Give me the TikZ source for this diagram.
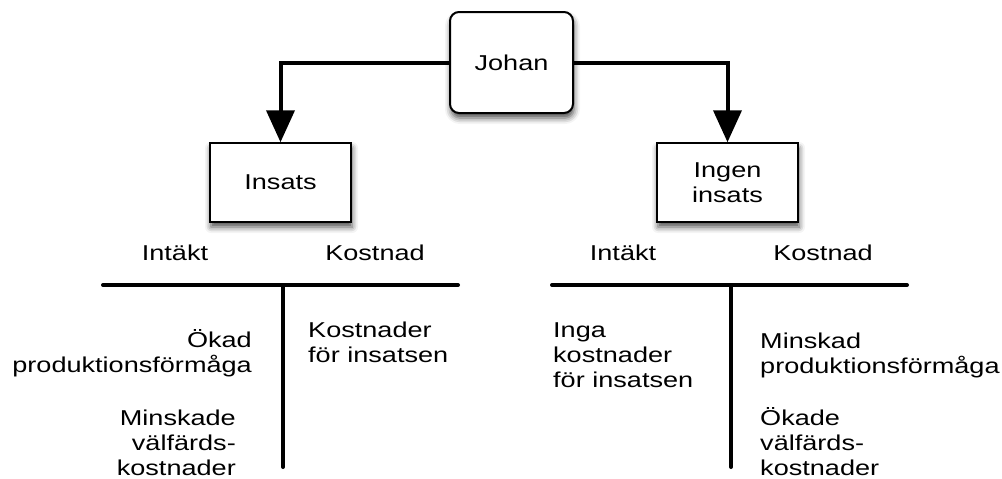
\documentclass[tikz,border=0pt]{standalone}
\usepackage{fontspec}
\setmainfont[FakeStretch=1.26]{Liberation Sans}
\usetikzlibrary{arrows.meta,shadows.blur}
\newcommand{\mylines}[2]{\begin{tabular}[t]{@{}#1@{}}#2\end{tabular}}
\begin{document}
\begin{tikzpicture}[x=1pt,y=-1pt,
  font=\fontsize{21.5}{25}\selectfont,
  boxsh/.style={draw, line width=1.5pt, fill=white, inner sep=0pt,
    blur shadow={shadow xshift=1pt, shadow yshift=-5pt, shadow blur radius=6pt, shadow opacity=70}},
  johanbox/.style={boxsh, rounded corners=9pt, minimum width=123pt, minimum height=101pt, line width=2pt},
  optbox/.style={boxsh, minimum width=141pt, minimum height=79pt, align=center},
  conn/.style={line width=4pt, -{Triangle[width=28pt,length=32pt]}},
  tline/.style={line width=4pt, line cap=round},
  lbl/.style={inner sep=0pt}]
\useasboundingbox (0,0) rectangle (1002,479);
% boxes
\node[johanbox] (johan) at (511.5,62.5) {Johan};
\node[optbox] (insats) at (280.5,182.5) {Insats};
\node[optbox] (ingen) at (727.5,182.5) {Ingen\\insats};
% connectors
\draw[conn] (johan.west) -| (insats.north);
\draw[conn] (johan.east) -| (ingen.north);
% left T
\coordinate (lA) at (103,285);
\coordinate (lB) at (458,285);
\coordinate (lC) at (283,285);
\coordinate (lD) at (283,467);
\draw[tline] (lA) -- (lB);
\draw[tline] (lC) -- (lD);
\node[lbl, anchor=base] (lin) at (175,260) {Intäkt};
\node[lbl, anchor=base] (lkost) at (375,260) {Kostnad};
\node[lbl, anchor=base east] (lokad) at (252,347) {\mylines{r}{Ökad\\produktionsförmåga}};
\node[lbl, anchor=base east] (lmin) at (236,425) {\mylines{r}{Minskade\\välfärds-\\kostnader}};
\node[lbl, anchor=base west] (lkn) at (308,337) {\mylines{l}{Kostnader\\för insatsen}};
% right T
\coordinate (rA) at (552,285);
\coordinate (rB) at (907,285);
\coordinate (rC) at (731,285);
\coordinate (rD) at (731,467);
\draw[tline] (rA) -- (rB);
\draw[tline] (rC) -- (rD);
\node[lbl, anchor=base] (rin) at (623,260) {Intäkt};
\node[lbl, anchor=base] (rkost) at (823,260) {Kostnad};
\node[lbl, anchor=base west] (ringa) at (553,337) {\mylines{l}{Inga\\kostnader\\för insatsen}};
\node[lbl, anchor=base west] (rmin) at (760,348) {\mylines{l}{Minskad\\produktionsförmåga}};
\node[lbl, anchor=base west] (rokade) at (760,425) {\mylines{l}{Ökade\\välfärds-\\kostnader}};
\end{tikzpicture}
\end{document}
